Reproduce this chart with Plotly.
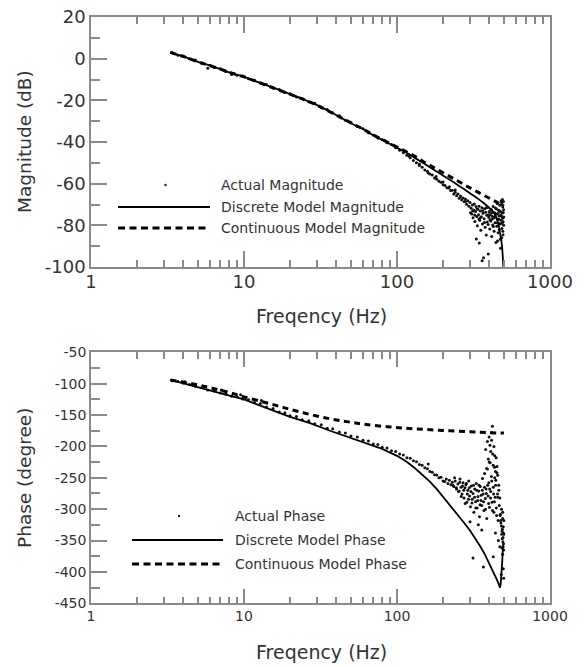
import plotly.graph_objects as go

# ---------------- data ----------------
# Magnitude plot
disc_mag_f = [3.3, 4, 5, 6, 7, 8.5, 10, 12, 15, 20, 25, 30, 40, 50, 60, 70, 80, 90, 100, 115, 130,
              150, 170, 195, 220, 250, 280, 310, 340, 370, 400, 430, 448, 460, 471, 480, 487, 493, 498]
disc_mag_db = [3.0, 1.1, -1.5, -3.3, -5.0, -7.2, -8.7, -10.9, -13.5, -17.0, -19.8, -22.3, -27.0, -31.0,
               -33.8, -36.8, -39.0, -41.0, -42.8, -45.0, -47.5, -50.3, -52.8, -55.6, -58.0, -60.7, -63.0,
               -65.3, -67.3, -69.4, -71.5, -74.0, -76.5, -79.5, -83.5, -87.0, -91.0, -97.0, -104.0]

cont_mag_f = [3.3, 4, 5, 6, 7, 8.5, 10, 12, 15, 20, 25, 30, 40, 50, 60, 70, 80, 90, 100, 115, 130,
              150, 170, 195, 220, 250, 280, 310, 340, 370, 400, 430, 460, 490, 500]
cont_mag_db = [3.0, 1.1, -1.5, -3.3, -5.0, -7.2, -8.7, -10.9, -13.5, -17.0, -19.8, -22.3, -27.0, -31.0,
               -33.8, -36.6, -38.8, -40.6, -42.3, -44.5, -46.7, -49.6, -51.9, -54.4, -56.6, -58.8, -60.8,
               -62.6, -64.2, -65.6, -67.0, -68.2, -69.3, -70.3, -70.7]

act_mag_f = [3.4, 3.7, 4.0, 4.4, 4.8, 5.3, 5.8, 6.0, 6.4, 7.0, 7.6, 8.3, 8.6, 9.0, 9.8, 10.7, 11.7, 12.8,
             14, 15.5, 17, 18.5, 20, 22, 24, 26.5, 29, 32, 35, 38, 42, 46, 50, 55, 60, 65, 70, 75, 80,
             86, 92, 98, 104, 110, 116, 122, 128, 134, 140, 146, 152, 158, 164, 170, 176, 182, 188, 194,
             200, 206, 212, 218, 224, 230, 235, 240, 245, 250, 255, 260, 265, 270, 275, 280, 285, 290,
             295, 300, 120, 140, 160, 180, 200, 220, 240, 260, 280,
             305, 308, 311, 314, 317, 320, 323, 326, 329, 332, 335, 338, 341, 344, 347, 350, 353, 356,
             359, 362, 365, 368, 371, 374, 377, 380, 383, 386, 389, 392, 395, 398, 401, 404, 407, 410,
             413, 416, 419, 422, 425, 428, 431, 434, 437, 440, 443, 446, 449, 452, 455, 458, 461, 464,
             467, 470, 473, 476, 479, 482, 485, 488, 491, 494, 497, 499,
             302, 312, 322, 333, 343, 352, 363, 373, 384, 394, 405, 415, 426, 436, 447, 457, 468, 478,
             487, 496, 492, 484, 475, 360, 345, 330, 480, 489, 495, 498, 466, 454,
             396, 418, 433, 451, 462, 474, 483, 490, 493, 486]
act_mag_db = [2.9, 1.7, 1.3, 0.0, -0.6, -2.2, -4.6, -3.1, -4.2, -4.8, -6.1, -7.6, -7.1, -8.0, -8.3, -9.6,
              -10.3, -11.7, -12.4, -14.1, -14.8, -16.2, -16.8, -18.4, -19.1, -20.7, -21.4, -23.3, -24.4,
              -26.0, -27.4, -29.5, -30.8, -32.6, -33.6, -35.5, -36.6, -38.1, -38.8, -40.4, -41.2, -42.7,
              -44.0, -45.1, -46.4, -47.5, -48.9, -49.9, -51.3, -52.1, -53.4, -54.0, -55.3, -55.8, -57.3,
              -57.9, -58.8, -59.3, -60.5, -60.9, -62.0, -62.1, -63.3, -63.2, -64.9, -64.1, -65.8, -65.0,
              -67.0, -65.9, -67.8, -66.9, -68.7, -67.4, -69.9, -68.2, -70.8, -69.0,
              -46.8, -50.6, -54.9, -56.5, -59.2, -61.5, -63.0, -66.4, -68.6,
              -71.8, -74.5, -70.2, -76.3, -72.6, -69.8, -78.1, -73.4, -71.0, -75.7, -80.2, -72.3, -74.9,
              -70.8, -77.5, -73.1, -82.4, -75.9, -71.6, -79.3, -74.2, -95.5, -76.8, -72.0, -80.9, -73.7,
              -84.6, -75.2, -78.4, -71.3, -93.8, -76.1, -73.3, -81.7, -74.8, -77.9, -72.4, -85.3, -75.6,
              -79.8, -70.9, -76.4, -82.8, -73.9, -78.7, -71.7, -88.2, -74.6, -80.4, -69.5, -77.2, -83.6,
              -72.8, -75.4, -79.1, -70.3, -86.7, -73.5, -77.6, -69.1, -81.5, -74.1, -71.2, -78.3, -72.5,
              -76.0,
              -74.0, -73.1, -75.0, -72.1, -77.0, -76.2, -73.0, -78.6, -71.5, -79.6, -77.3, -74.0, -80.6,
              -75.8, -72.2, -74.3, -73.1, -75.2, -70.0, -68.6, -82.8, -86.0, -91.0, -97.0, -88.5, -86.5,
              -68.2, -67.6, -73.8, -80.0, -82.0, -87.5,
              -74.9, -77.1, -76.3, -78.8, -76.9, -79.4, -75.8, -76.6, -84.5, -79.0]

# Phase plot
disc_ph_f = [3.3, 4, 5, 6, 7.7, 10, 12, 14.8, 20, 27, 36.5, 47, 60, 80, 100, 115, 130, 147, 164, 182,
             200, 225, 250, 275, 300, 325, 350, 375, 400, 420, 440, 455, 465, 471, 476, 481, 487, 493]
disc_ph = [-94, -99.5, -106.5, -112, -118, -125, -133, -141, -153, -163, -175, -184, -193, -204, -215,
           -224, -234, -245, -256, -268, -280, -295, -309, -322, -334, -346, -359, -372, -386, -396,
           -407, -415, -421, -425, -420, -408, -385, -357]

cont_ph_f = [3.3, 4.66, 6, 7.7, 10, 14.8, 20, 27, 36.5, 47, 60, 90, 130, 200, 300, 400, 500]
cont_ph = [-94, -100.5, -106.5, -112.8, -121, -132, -141, -149, -156, -160.5, -164.5, -169, -172,
           -174.5, -176.5, -178, -178.8]

act_ph_f = [3.4, 3.7, 4.0, 4.4, 4.8, 5.3, 5.8, 6.4, 7.0, 7.6, 8.3, 9.0, 9.8, 10.7, 11.7, 12.8, 14, 15.5,
            17, 18.5, 20, 22, 24, 26.5, 29, 32, 35, 38, 42, 46, 50, 55, 60, 65, 70, 75, 80, 86, 92, 98,
            104, 110, 116, 122, 128, 134, 140, 146, 152, 158, 164, 170, 176, 182, 188, 194, 200,
            4.1, 7.1, 9.5, 13, 160,
            205, 210, 215, 220, 225, 230, 235, 240, 245, 250, 255, 258, 262, 266, 270, 274, 278, 282,
            286, 290, 294, 298, 302, 306, 310, 314, 318, 322, 326, 330, 334, 338, 342, 346, 350, 354,
            358, 362, 366, 370, 374, 378, 382, 386, 390, 394, 398, 402, 406, 410, 414, 418, 422, 426,
            430, 434, 438, 442, 446, 450, 454, 458, 462, 466, 470, 474, 478, 482, 486, 490, 493, 495,
            497, 499,
            380, 390, 395, 400, 405, 410, 415, 420, 425, 430, 435, 440, 445, 450, 415, 400, 385, 435, 455,
            314, 367, 426, 358, 480, 300, 340, 460, 470, 440, 485, 490, 495, 498,
            472, 476, 481, 484, 488, 492, 494, 496, 498, 499, 491, 487,
            232, 238, 244, 252, 257, 263, 268, 273, 279, 284, 288, 293, 297, 304, 309, 316, 321, 327,
            332, 337, 344, 349, 355, 361, 368, 373, 379, 384, 391, 397, 403, 409, 416, 421, 428, 433,
            441, 448, 456, 463]
act_ph = [-95.5, -96.5, -99, -101.5, -104, -106, -110, -111.5, -115, -116.5, -120, -120.5, -124.5,
          -125.5, -130, -131.5, -137, -139.5, -145, -146.5, -151, -152.5, -157.5, -159, -164, -165.5,
          -171, -172, -177, -178.5, -183.5, -185, -190, -191.5, -196, -197, -201.5, -202.5, -207, -208,
          -212, -213.5, -218, -219, -223, -224.5, -229, -230, -234, -235.5, -240, -241, -245, -245.5,
          -250, -249, -255,
          -96.8, -110, -117.5, -127, -228,
          -256, -252, -259, -254, -261, -257, -264, -255, -268, -260, -271, -252, -265, -276, -258,
          -282, -266, -261, -289, -270, -255, -279, -296, -263, -284, -275, -305, -268, -288, -259,
          -298, -280, -271, -312, -264, -286, -294, -251, -276, -302, -243, -283, -268, -315, -236,
          -279, -258, -297, -226, -272, -248, -289, -212, -265, -305, -233, -281, -254, -298, -242,
          -276, -318, -262, -294, -282, -308, -322, -300, -335, -315, -345, -328, -355, -340,
          -205, -192, -220, -185, -198, -208, -190, -168, -230, -200, -215, -240, -218, -232, -178,
          -225, -235, -250, -246,
          -378, -392, -376, -333, -404, -320, -325, -350, -360, -338, -362, -372, -395, -410,
          -310, -318, -327, -340, -332, -352, -360, -338, -365, -318, -305, -347,
          -262, -250, -266, -272, -257, -280, -263, -270, -291, -259, -276, -284, -266, -272, -290,
          -262, -281, -298, -270, -286, -262, -293, -278, -270, -288, -265, -300, -275, -262, -291,
          -268, -282, -255, -302, -276, -288, -262, -310, -281, -270]

x_major = [1, 10, 100, 1000]
x_major_text = ["1", "10", "100", "1000"]
x_minor = [2, 3, 4, 5, 6, 7, 8, 9, 20, 30, 40, 50, 60, 70, 80, 90, 200, 300, 400, 500, 600, 700, 800, 900]
mag_ticks = [20, 0, -20, -40, -60, -80, -100]
mag_tick_text = ["20", "0", "-20", "-40", "-60", "-80", "-100"]
ph_ticks = [-50, -100, -150, -200, -250, -300, -350, -400, -450]
ph_tick_text = ["-50", "-100", "-150", "-200", "-250", "-300", "-350", "-400", "-450"]

legend_mag = ["Actual Magnitude", "Discrete Model Magnitude", "Continuous Model Magnitude"]
legend_ph = ["Actual Phase", "Discrete Model Phase", "Continuous Model Phase"]

# ---------------- figure ----------------
W, H = 585, 667
FONT = "DejaVu Sans"
AX = "#8a8a8a"
TXT = "#333333"
DASH = "6px,4.5px"


def px(x):
    return x / W


def py(y):
    return 1 - y / H


fig = go.Figure()

# top: magnitude
fig.add_trace(go.Scatter(x=act_mag_f, y=act_mag_db, mode="markers", xaxis="x", yaxis="y",
                         marker=dict(size=3, color="#111111"), showlegend=False))
fig.add_trace(go.Scatter(x=cont_mag_f, y=cont_mag_db, mode="lines", xaxis="x", yaxis="y",
                         line=dict(color="#000000", width=3, dash=DASH), showlegend=False))
fig.add_trace(go.Scatter(x=disc_mag_f, y=disc_mag_db, mode="lines", xaxis="x", yaxis="y",
                         line=dict(color="#000000", width=1.8, shape="spline"), showlegend=False))

# bottom: phase
fig.add_trace(go.Scatter(x=act_ph_f, y=act_ph, mode="markers", xaxis="x2", yaxis="y2",
                         marker=dict(size=3, color="#111111"), showlegend=False))
fig.add_trace(go.Scatter(x=cont_ph_f, y=cont_ph, mode="lines", xaxis="x2", yaxis="y2",
                         line=dict(color="#000000", width=3, dash=DASH, shape="spline"), showlegend=False))
fig.add_trace(go.Scatter(x=disc_ph_f, y=disc_ph, mode="lines", xaxis="x2", yaxis="y2",
                         line=dict(color="#000000", width=1.8), showlegend=False))


def xax(anchor, fsize, tlen, standoff):
    return dict(type="log", range=[0, 3], domain=[px(91), px(550)], anchor=anchor,
                tickvals=x_major, ticktext=x_major_text, ticks="inside", ticklen=tlen,
                tickwidth=1.5, tickcolor=AX, showline=True, linecolor=AX, linewidth=1.5,
                mirror="ticks", showgrid=False, zeroline=False, automargin=False,
                ticklabelstandoff=standoff,
                tickfont=dict(family=FONT, size=fsize, color=TXT),
                minor=dict(tickvals=x_minor, ticks="inside", ticklen=7, tickwidth=1.5,
                           tickcolor=AX, showgrid=False))


def yax(rng, tv, tt, dtick, domain, anchor, fsize):
    return dict(range=rng, tickvals=tv, ticktext=tt, domain=domain, anchor=anchor, ticks="inside",
                ticklen=16, tickwidth=1.5, tickcolor=AX, showline=True, linecolor=AX, linewidth=1.5,
                mirror=True, showgrid=False, zeroline=False, automargin=False,
                tickfont=dict(family=FONT, size=fsize, color=TXT),
                minor=dict(dtick=dtick / 2, tick0=0, ticks="inside", ticklen=9, tickwidth=1.5,
                           tickcolor=AX, showgrid=False))


fig.update_layout(
    width=W, height=H, autosize=False,
    margin=dict(l=0, r=0, t=0, b=0, autoexpand=False),
    paper_bgcolor="white", plot_bgcolor="white",
    xaxis=xax("y", 18, 16, -2),
    yaxis=yax([-100, 20], mag_ticks, mag_tick_text, 20, [py(267), py(17)], "x", 18),
    xaxis2=xax("y2", 14, 15, -1),
    yaxis2=yax([-450, -50], ph_ticks, ph_tick_text, 50, [py(603.3), py(352.3)], "x2", 14),
    showlegend=False,
)

annotations = []
shapes = []

# axis titles
annotations.append(dict(text="Magnitude (dB)", x=px(24), y=py(142), xref="paper", yref="paper",
                        showarrow=False, textangle=-90, font=dict(family=FONT, size=18.5, color=TXT),
                        xanchor="center", yanchor="middle"))
annotations.append(dict(text="Freqency (Hz)", x=px(321), y=py(316), xref="paper", yref="paper",
                        showarrow=False, font=dict(family=FONT, size=19, color=TXT),
                        xanchor="center", yanchor="middle"))
annotations.append(dict(text="Phase (degree)", x=px(24), y=py(478), xref="paper", yref="paper",
                        showarrow=False, textangle=-90, font=dict(family=FONT, size=18.5, color=TXT),
                        xanchor="center", yanchor="middle"))
annotations.append(dict(text="Freqency (Hz)", x=px(321), y=py(652), xref="paper", yref="paper",
                        showarrow=False, font=dict(family=FONT, size=19, color=TXT),
                        xanchor="center", yanchor="middle"))


def legend(labels, rows_y, dot_x, line_x0, line_x1, text_x):
    shapes.append(dict(type="circle", xref="paper", yref="paper",
                       x0=px(dot_x - 1.2), x1=px(dot_x + 1.2), y0=py(rows_y[0] + 1.2), y1=py(rows_y[0] - 1.2),
                       fillcolor="#222222", line=dict(width=0)))
    shapes.append(dict(type="line", xref="paper", yref="paper", x0=px(line_x0), x1=px(line_x1),
                       y0=py(rows_y[1]), y1=py(rows_y[1]), line=dict(color="#000000", width=2)))
    shapes.append(dict(type="line", xref="paper", yref="paper", x0=px(line_x0), x1=px(line_x1),
                       y0=py(rows_y[2]), y1=py(rows_y[2]), line=dict(color="#000000", width=3, dash="7px,4.5px")))
    for lab, yy in zip(labels, rows_y):
        annotations.append(dict(text=lab, x=px(text_x), y=py(yy), xref="paper", yref="paper",
                                showarrow=False, xanchor="left", yanchor="middle",
                                font=dict(family=FONT, size=14, color=TXT)))


legend(legend_mag, [185, 207, 228], 165.5, 118, 210, 219)
legend(legend_ph, [516, 540, 564], 179, 132, 223, 233)

fig.update_layout(annotations=annotations, shapes=shapes)

# remove the browser's default page margin so the figure sits at the window origin
fig.write_html("out.html", config={"displayModeBar": False},
               post_script="document.body.style.margin='0px';")
